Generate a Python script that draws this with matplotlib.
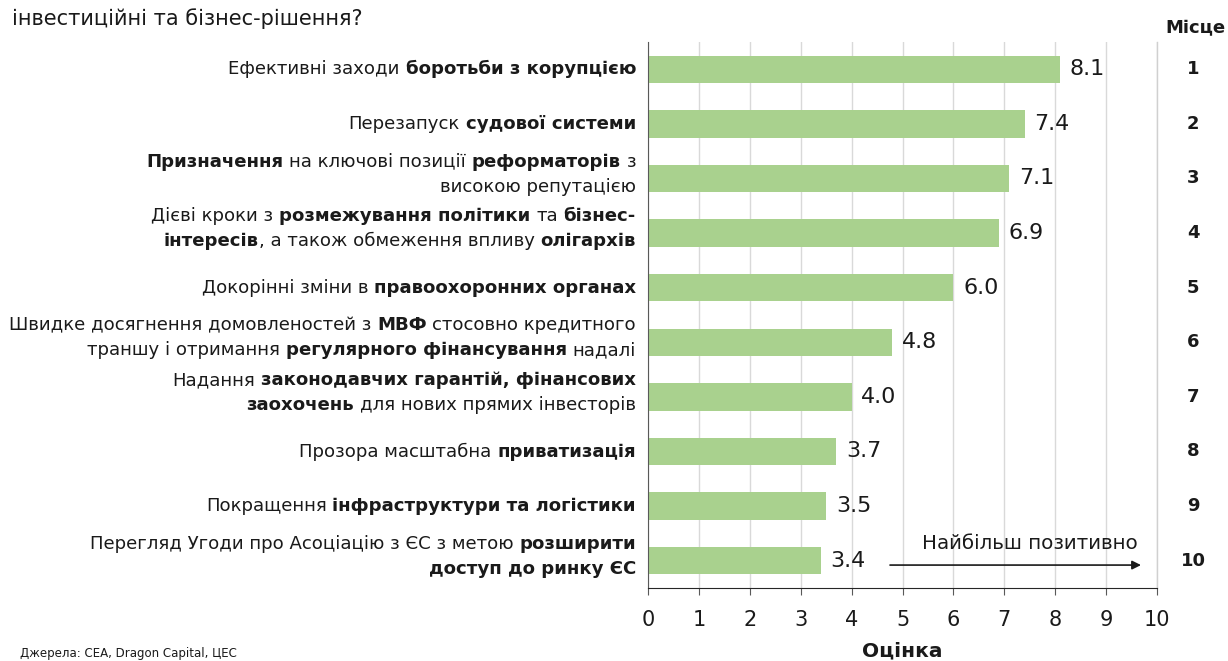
import matplotlib
matplotlib.use("Agg")
import matplotlib.pyplot as plt
from matplotlib.offsetbox import TextArea, HPacker, VPacker, DrawingArea, AnnotationBbox

# --- data -------------------------------------------------------------
scores = [8.1, 7.4, 7.1, 6.9, 6.0, 4.8, 4.0, 3.7, 3.5, 3.4]
ranks = ["1", "2", "3", "4", "5", "6", "7", "8", "9", "10"]
# each label: list of lines, each line a list of (text, bold)
labels = [
    [[("Ефективні заходи ", False), ("боротьби з корупцією", True)]],
    [[("Перезапуск ", False), ("судової системи", True)]],
    [[("Призначення", True), (" на ключові позиції ", False), ("реформаторів", True), (" з", False)],
     [("високою репутацією", False)]],
    [[("Дієві кроки з ", False), ("розмежування політики", True), (" та ", False), ("бізнес-", True)],
     [("інтересів", True), (", а також обмеження впливу ", False), ("олігархів", True)]],
    [[("Докорінні зміни в ", False), ("правоохоронних органах", True)]],
    [[("Швидке досягнення домовленостей з ", False), ("МВФ", True), (" стосовно кредитного", False)],
     [("траншу і отримання ", False), ("регулярного фінансування", True), (" надалі", False)]],
    [[("Надання ", False), ("законодавчих гарантій, фінансових", True)],
     [("заохочень", True), (" для нових прямих інвесторів", False)]],
    [[("Прозора масштабна ", False), ("приватизація", True)]],
    [[("Покращення ", False), ("інфраструктури та логістики", True)]],
    [[("Перегляд Угоди про Асоціацію з ЄС з метою ", False), ("розширити", True)],
     [("доступ до ринку ЄС", True)]],
]
x_ticks = list(range(0, 11))
title_text = "інвестиційні та бізнес-рішення?"
source_text = "Джерела: CEA, Dragon Capital, ЦЕС"

# --- style ------------------------------------------------------------
FONT = "DejaVu Sans"
TXT = "#1a1a1a"
BAR = "#a9d18e"
LBL_SIZE = 13.1
plt.rcParams["font.family"] = FONT

W, H = 1228, 661
fig = plt.figure(figsize=(W / 100, H / 100), dpi=100)
ax = fig.add_axes([648 / W, 1 - 588 / H, (1157 - 648) / W, (588 - 42) / H])

y = list(range(len(scores)))
ax.barh(y, scores, height=0.5, color=BAR, zorder=2)
ax.set_xlim(0, 10)
ax.set_ylim(len(scores) - 0.5, -0.5)
ax.set_xticks(x_ticks)
ax.set_xticklabels([str(t) for t in x_ticks], fontsize=15, color=TXT)
ax.set_yticks([])
ax.grid(axis="x", color="#d9d9d9", linewidth=1, zorder=0)
ax.axvline(10, color="#d0d0d0", linewidth=1, zorder=0, clip_on=False)
for s in ("top", "right"):
    ax.spines[s].set_visible(False)
ax.spines["left"].set_color("#595959")
ax.spines["bottom"].set_color("#262626")
ax.tick_params(axis="x", length=5, direction="out", color="#595959", pad=11)
ax.set_xlabel("Оцінка", fontsize=14.5, fontweight="bold", color=TXT, labelpad=8)

# value labels
for yi, v in zip(y, scores):
    ax.text(v + 0.19, yi, f"{v:.1f}", va="center", ha="left", fontsize=16, color=TXT)

# rank column
for yi, r in zip(y, ranks):
    ax.annotate(r, xy=(1, yi), xycoords=("axes fraction", "data"),
                xytext=(1193 - 1157, 0), textcoords="offset pixels",
                ha="center", va="center", fontsize=13, fontweight="bold",
                color=TXT, annotation_clip=False)
fig.text(1195 / W, 1 - 28 / H, "Місце", ha="center", va="center",
         fontsize=13, fontweight="bold", color=TXT)


def space_box(size, bold):
    # advance width of a space in DejaVu Sans (em units)
    em = 0.348 if bold else 0.318
    return DrawingArea(em * size, 1)


def make_line(segments, size):
    children = []
    for text, bold in segments:
        lead = len(text) - len(text.lstrip(" "))
        trail = len(text) - len(text.rstrip(" "))
        core = text.strip(" ")
        for _ in range(lead):
            children.append(space_box(size, bold))
        children.append(TextArea(core, textprops=dict(
            fontsize=size, fontweight="bold" if bold else "normal", color=TXT)))
        for _ in range(trail):
            children.append(space_box(size, bold))
    return HPacker(children=children, sep=0, pad=0, align="baseline")


for yi, lines in zip(y, labels):
    packed = VPacker(children=[make_line(l, LBL_SIZE) for l in lines],
                     sep=5, pad=0, align="right")
    shift = -0.08 if len(lines) > 1 else 0.0
    ab = AnnotationBbox(packed, (0, yi + shift), xycoords="data",
                        xybox=(-12, 0), boxcoords="offset pixels",
                        box_alignment=(1, 0.5), frameon=False, pad=0,
                        annotation_clip=False)
    ax.add_artist(ab)

# direction arrow
ax.annotate("", xy=(9.74, 9.08), xytext=(4.7, 9.08),
            arrowprops=dict(arrowstyle="-|>", color="#1a1a1a", lw=1.2,
                            mutation_scale=13), annotation_clip=False)
ax.text(7.5, 8.68, "Найбільш позитивно", ha="center", va="center",
        fontsize=14.3, color=TXT)

fig.text(12 / W, 1 - 19 / H, title_text, ha="left", va="center",
         fontsize=15, color=TXT)
fig.text(20 / W, 1 - 660 / H, source_text, ha="left", va="bottom",
         fontsize=8.5, color=TXT)

fig.savefig("out.png", dpi=100)
